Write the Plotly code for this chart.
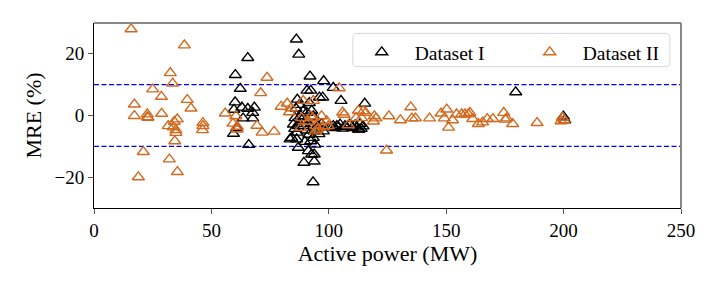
import plotly.graph_objects as go

# Dataset I (black)
x1 = [86.2, 87.2, 65.5, 60.2, 62.3, 60.1, 59.6, 63.0, 65.5, 68.3, 67.6, 63.5, 67.6, 60.8, 59.4, 65.9,
      92.0, 97.8, 90.7, 92.3, 96.0, 97.4, 101.9, 105.2, 86.6, 87.5, 91.7, 86.0, 89.1, 90.6, 92.7,
      85.6, 88.0, 93.4, 84.9, 87.0, 89.4, 92.0, 93.8, 95.5, 96.9, 93.8, 95.1, 97.7, 104.8, 106.9,
      109.0, 111.2, 113.3, 112.6, 101.9, 103.4, 84.2, 86.3, 83.5, 93.4, 92.3, 94.1, 87.0, 91.3,
      92.7, 93.8, 89.4, 93.8, 93.3, 115.3, 100.5, 102.5, 104.0, 106.0, 107.5, 110.0, 111.8, 113.8,
      114.6, 112.9, 88.5, 90.5, 86.5, 91.5, 95.8, 85.5, 89.8, 179.6, 199.9, 200.5]
y1 = [24.7, 19.8, 18.7, 13.2, 8.7, 4.3, 1.9, 2.6, 2.2, 2.6, 0.9, -0.9, -0.9, -4.0, -5.9, -9.5,
      12.7, 11.2, 8.1, 8.1, 5.9, 5.9, 9.0, 4.8, 5.2, 3.5, 4.1, 2.3, 1.4, 0.9, 1.6,
      -0.8, -0.2, -0.2, -2.9, -3.4, -2.7, -3.4, -2.7, -3.4, -2.7, -5.1, -4.2, -5.1, -2.9, -3.4,
      -2.9, -3.1, -2.7, -4.5, -3.4, -3.4, -7.2, -7.7, -7.7, -7.2, -8.3, -9.4, -10.4, -11.5,
      -12.6, -12.6, -15.3, -14.9, -21.6, 3.9, -3.8, -4.0, -3.6, -4.2, -3.7, -4.0, -3.8, -4.3,
      -3.5, -4.5, -1.5, -4.8, -5.5, -6.2, -6.0, -4.3, -8.5, 7.6, -0.3, -1.5]

# Dataset II (orange)
x2 = [15.8, 38.5, 32.5, 33.5, 25.0, 28.7, 17.2, 39.7, 41.3, 17.2, 22.7, 22.7, 23.0, 28.8, 35.5,
      34.2, 31.6, 34.9, 34.9, 33.8, 46.4, 46.4, 46.2, 34.4, 21.0, 32.1, 35.5, 18.9,
      73.7, 71.0, 55.9, 60.4, 59.2, 61.0, 61.0, 69.4, 71.6, 76.7, 79.7, 82.3, 84.0, 83.2,
      89.1, 93.4, 104.4, 105.9, 88.4, 92.3, 93.1, 96.9, 91.3, 88.0, 94.5, 95.1, 99.1, 99.8, 97.7,
      94.3, 108.3, 112.6, 114.7, 111.6, 114.0, 106.5, 115.7, 119.4, 120.1, 119.0, 125.6, 130.5,
      134.9, 135.4, 136.9, 142.9, 124.6, 147.8, 150.2, 149.2, 151.0, 152.7, 154.4, 156.6, 158.0,
      159.4, 160.1, 161.3, 163.7, 165.5, 167.5, 169.9, 174.5, 175.8, 175.2, 178.3, 188.7, 198.9,
      200.2, 199.5]
y2 = [28.0, 22.8, 13.8, 10.4, 8.5, 6.1, 3.6, 5.1, 2.3, -0.1, 0.4, -0.5, -0.7, 0.6, -1.2,
      -2.0, -3.4, -4.7, -5.6, -3.8, -2.4, -3.4, -4.7, -8.3, -11.8, -14.2, -18.3, -20.0,
      12.3, 7.3, 0.7, -0.2, -2.6, -3.6, -4.5, -3.3, -5.5, -5.2, 2.9, 3.9, 2.4, 1.1,
      4.8, 4.8, 8.9, 1.0, -0.8, -0.2, -0.8, -0.2, -2.0, -4.0, -3.4, -4.5, -1.8, -3.4, -3.8,
      -5.1, -3.1, 1.6, 1.4, -0.8, -0.8, 0.3, 0.9, -0.2, -0.9, -1.9, -0.2, -1.5,
      2.7, -0.9, -0.9, -0.9, -11.3, 0.7, 2.0, -0.9, -3.9, -1.5, 0.4, 0.4, 0.4,
      0.4, 0.9, -1.1, -2.7, -2.2, -1.1, -1.1, 0.9, -0.9, -1.3, -2.7, -2.4, -1.8,
      -1.5, -0.7]

x_ticks = [0, 50, 100, 150, 200, 250]
y_ticks = [-20, 0, 20]
limits = [-10, 10]

FONT = "Liberation Serif"
ORANGE = "#D2691E"

fig = go.Figure()
fig.add_trace(go.Scatter(x=x1, y=y1, mode="markers", name="Dataset I",
                         marker=dict(symbol="triangle-up-open", size=10.5, color="black",
                                     line=dict(width=1.4))))
fig.add_trace(go.Scatter(x=x2, y=y2, mode="markers", name="Dataset II",
                         marker=dict(symbol="triangle-up-open", size=10.5, color=ORANGE,
                                     line=dict(width=1.4))))

for v in limits:
    fig.add_shape(type="line", xref="paper", x0=0, x1=1, yref="y", y0=v, y1=v,
                  line=dict(color="blue", width=1.2, dash="5px,2.5px"), layer="below")

# top/right grey spines
fig.add_shape(type="line", xref="paper", yref="paper", x0=0, x1=1, y0=1, y1=1,
              line=dict(color="#888888", width=2))
fig.add_shape(type="line", xref="paper", yref="paper", x0=1, x1=1, y0=0, y1=1,
              line=dict(color="#888888", width=2))

# rounded legend frame (paper coords)
lx0, lx1, ly0, ly1 = 0.441, 0.981, 0.764, 0.944
rx, ry = 0.007, 0.022
path = (f"M {lx0+rx},{ly0} L {lx1-rx},{ly0} Q {lx1},{ly0} {lx1},{ly0+ry} "
        f"L {lx1},{ly1-ry} Q {lx1},{ly1} {lx1-rx},{ly1} L {lx0+rx},{ly1} "
        f"Q {lx0},{ly1} {lx0},{ly1-ry} L {lx0},{ly0+ry} Q {lx0},{ly0} {lx0+rx},{ly0} Z")
fig.add_shape(type="path", xref="paper", yref="paper", path=path,
              fillcolor="rgba(255,255,255,0.85)", line=dict(color="#d6d6d6", width=1),
              layer="above")

fig.update_layout(
    width=720, height=288,
    margin=dict(l=86, r=47, t=15, b=88),
    paper_bgcolor="white", plot_bgcolor="white",
    font=dict(family=FONT, size=19, color="black"),
    showlegend=True,
    legend=dict(orientation="h", x=0.434, xanchor="left", y=0.946, yanchor="top",
                bgcolor="rgba(0,0,0,0)", borderwidth=0,
                itemwidth=56,
                font=dict(family=FONT, size=19.5), entrywidth=97, entrywidthmode="pixels"),
)
fig.update_xaxes(range=[0, 250], tickvals=x_ticks, showgrid=False, zeroline=False,
                 showline=True, linecolor="black", linewidth=1,
                 ticks="outside", ticklen=5, tickcolor="#555555",
                 title=dict(text="Active power (MW)", standoff=2, font=dict(size=22)))
fig.update_yaxes(range=[-30, 30], tickvals=y_ticks, showgrid=False, zeroline=False,
                 showline=True, linecolor="black", linewidth=1,
                 ticks="outside", ticklen=5, tickcolor="#555555",
                 title=dict(text="MRE (%)", standoff=6, font=dict(size=22)))

fig.write_html("out.html")
